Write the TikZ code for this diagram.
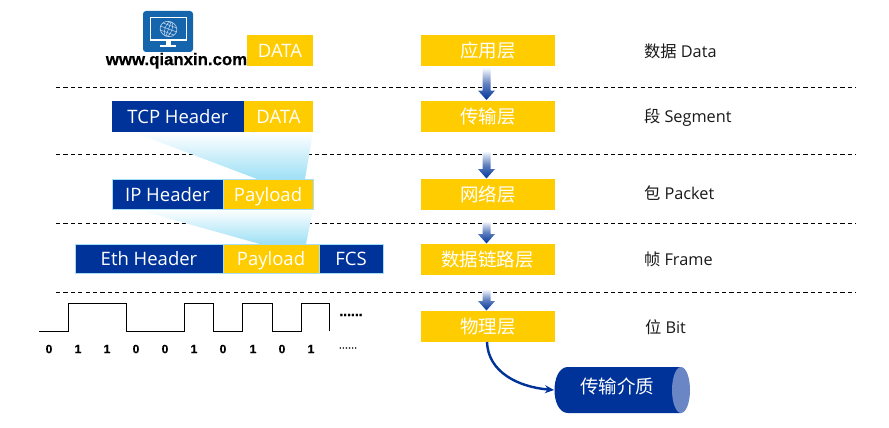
\documentclass[tikz,border=0pt]{standalone}
\usepackage{fontspec}
\setmainfont{Open Sans}
\newfontfamily\cjk{Noto Sans CJK SC}
\newfontfamily\arialb{Liberation Sans}[FakeBold=0.25,BoldFont={Liberation Sans Bold},BoldFeatures={FakeBold=0.6}]
\usetikzlibrary{arrows.meta,calc}
\definecolor{navy}{HTML}{003399}
\definecolor{gold}{HTML}{FFCC00}
\definecolor{edge}{HTML}{A6DEF5}
\definecolor{iconblue}{HTML}{1565AD}
\definecolor{capblue}{HTML}{6A86C4}
\newcommand{\blockarrow}[2]{%
  \path[top color=white,bottom color=navy,middle color=navy!62]
    ($(#1.north)+(-5.5,-#2)$) -- ($(#1.north)+(2.5,-#2)$) -- ($(#1.north)+(2.5,-10)$)
    -- ($(#1.north)+(7,-10)$) -- ($(#1.north)+(-1.5,-0.5)$) -- ($(#1.north)+(-10,-10)$)
    -- ($(#1.north)+(-5.5,-10)$) -- cycle;}
\tikzset{
  x=1pt,y=-1pt,
  every node/.style={inner sep=0pt,outer sep=0pt,text depth=0pt},
  blue box/.style={fill=navy,text=white,font=\fontsize{18.5}{20}\selectfont,anchor=north west},
  gold box/.style={fill=gold,text=white,font=\fontsize{18.5}{20}\selectfont,anchor=north west},
  rimmed/.style={draw=edge,line width=0.9pt},
  layer/.style={fill=gold,text=white,minimum width=134pt,minimum height=31pt},
  layer text/.style={text=white,font=\cjk\fontsize{18.5}{20}\selectfont},
  sep line/.style={dash pattern=on 4.2pt off 3.2pt,line width=0.9pt,black},
  unit/.style={anchor=west,font=\fontsize{16.3}{18}\selectfont,text=black!90},
  wave line/.style={black,line width=1pt},
  bit/.style={font=\arialb\bfseries\fontsize{12}{13}\selectfont,black},
  fade/.style={top color=white,bottom color=edge!95!cyan},
}
\begin{document}
\begin{tikzpicture}
\useasboundingbox (0,0) rectangle (889,428);
% separators
\coordinate (s1a) at (56,87);  \coordinate (s1b) at (855.5,87);
\coordinate (s2a) at (56,154); \coordinate (s2b) at (855.5,154);
\coordinate (s3a) at (56,223); \coordinate (s3b) at (855.5,223);
\coordinate (s4a) at (56,292); \coordinate (s4b) at (855.5,292);
\foreach \k in {1,2,3,4} \draw[sep line] (s\k a) -- (s\k b);
% fades
\path[fade] (133,132) -- (313,132) -- (305,179) -- (257,179) -- cycle;
\path[fade] (135,209) -- (313,209) -- (306,244) -- (260,244) -- cycle;
% packet rows
\node[gold box,minimum width=66pt,minimum height=31pt] (d0) at (247,35) {DATA};
\node[blue box,minimum width=132pt,minimum height=31pt] (tcp) at (112,101) {TCP Header};
\node[gold box,minimum width=69pt,minimum height=31pt] (d1) at (244,101) {DATA};
\node[blue box,rimmed,minimum width=111pt,minimum height=30pt] (ip) at (112,179) {IP Header};
\node[gold box,rimmed,minimum width=90pt,minimum height=30pt] (p1) at (223,179) {Payload};
\node[blue box,rimmed,minimum width=148pt,minimum height=29pt] (eth) at (75,244) {Eth Header};
\node[gold box,rimmed,minimum width=96pt,minimum height=29pt] (p2) at (223,244) {Payload};
\node[blue box,rimmed,minimum width=64pt,minimum height=29pt] (fcs) at (319,244) {FCS};
% icon
\fill[iconblue,rounded corners=3pt] (143,11) rectangle (193,52);
\draw[white,line width=1.1pt] (150.5,17.5) rectangle (186.5,40);
\fill[white] (165.5,41) rectangle (170.5,45);
\fill[white] (160,45) rectangle (176,47.5);
\begin{scope}[shift={(168.5,29)},rotate=-20]
  \draw[white!75!iconblue,line width=0.6pt] (0,0) ellipse (8.5 and 7.5);
  \draw[white!75!iconblue,line width=0.5pt] (0,0) ellipse (3.5 and 7.5);
  \draw[white!75!iconblue,line width=0.5pt] (-8.5,0) -- (8.5,0) (-7.3,-3.8) -- (7.3,-3.8) (-7.3,3.8) -- (7.3,3.8) (0,-7.5) -- (0,7.5);
\end{scope}
\node[font=\arialb\bfseries\fontsize{16.8}{18}\selectfont,black] (url) at (176.5,59) {www.qianxin.com};
% layers
\node[layer] (l1) at (488,50.5) {};
\node[layer] (l2) at (488,116) {};
\node[layer] (l3) at (488,194.5) {};
\node[layer] (l4) at (488,259.5) {};
\node[layer] (l5) at (488,326.5) {};
\node[layer text] (t1) at (488,50) {应用层};
\node[layer text] (t2) at (488,115.5) {传输层};
\node[layer text] (t3) at (488,193.5) {网络层};
\node[layer text] (t4) at (487.5,259) {数据链路层};
\node[layer text] (t5) at (488,326) {物理层};
\blockarrow{l2}{33}
\blockarrow{l3}{28}
\blockarrow{l4}{23}
\blockarrow{l5}{22}
% units
\node[unit] (u1) at (644,50.5) {{\cjk 数据} Data};
\node[unit] (u2) at (644,116) {{\cjk 段} Segment};
\node[unit] (u3) at (644,193) {{\cjk 包} Packet};
\node[unit] (u4) at (644,259) {{\cjk 帧} Frame};
\node[unit] (u5) at (645,327) {{\cjk 位} Bit};
% signal
\draw[wave line] (39,331) -- (68,331) -- (68,303) -- (126,303) -- (126,331) -- (184,331) -- (184,303)
  -- (213,303) -- (213,331) -- (242,331) -- (242,303) -- (272,303) -- (272,331) -- (301,331) -- (301,303) -- (329,303) -- (329,331);
\node[font=\arialb\bfseries\fontsize{14}{14}\selectfont,black] (dots1) at (351,315) {......};
\foreach \x/\b [count=\i] in {49/0,78/1,107/1,136/0,165/0,194/1,223/0,253/1,282/0,311/1}
  \node[bit] (b\i) at (\x,349) {\b};
\node[font=\arialb\fontsize{11}{12}\selectfont,black] (dots2) at (348,348) {......};
% medium
\path[fill=navy] (681,367) -- (568,367) .. controls (550,367) and (550,413) .. (568,413) -- (681,413) -- cycle;
\fill[capblue] (681,390) ellipse (9 and 23);
\node[text=white,font=\cjk\fontsize{18.5}{20}\selectfont] (medt) at (617,385.5) {传输介质};
\coordinate (medin) at (554,390);
\coordinate (curvestart) at ($(l5.south)+(-1,0)$);
\draw[navy,line width=2.4pt,-{Stealth[length=9pt,width=8pt]}] (curvestart) .. controls (488,372) and (518,387) .. (medin);
\end{tikzpicture}
\end{document}
